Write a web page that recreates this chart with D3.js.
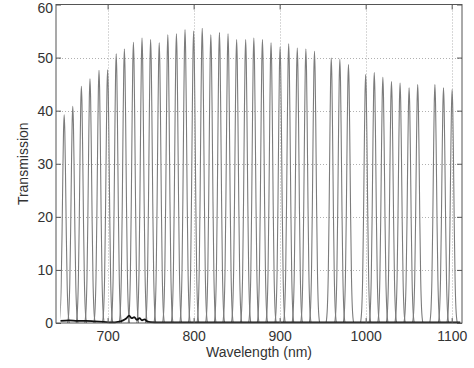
<!DOCTYPE html>
<html>
<head>
<meta charset="utf-8">
<script src="https://cdn.jsdelivr.net/npm/d3@7"></script>
<style>
  body { margin: 0; background: #fff; }
  svg text { font-family: "Liberation Sans", Arial, sans-serif; }
</style>
</head>
<body>
<div id="view"></div>
<script>
// peak centres (nm) and peak transmission
const peakCenters = [649.5, 659.5, 669.5, 679.5, 690, 700, 710, 719.5, 730, 740, 750, 760,
  770, 780, 790, 800, 810, 820, 830, 840, 850, 860.5, 870, 880, 890, 900.5, 910.5, 920.5,
  930.5, 940.5, 960, 970, 980, 1000, 1010, 1020, 1030, 1040, 1050.5, 1060.5, 1080.5, 1090.5, 1100.5];
const peakHeights = [39.2, 40.8, 44.6, 46.0, 47.6, 47.7, 50.7, 51.6, 52.9, 53.7, 53.4, 52.8,
  54.3, 54.5, 55.3, 55.0, 55.5, 54.3, 54.7, 54.5, 53.4, 53.4, 53.7, 53.4, 52.8, 52.0, 52.6, 51.8,
  51.6, 51.2, 49.9, 49.7, 48.7, 46.8, 47.2, 46.3, 45.5, 45.2, 44.3, 44.9, 44.9, 44.3, 44.0];

// passband shape: offset from centre (nm) -> fraction of peak
const profileOffsets = [-6, -4.5, -3.5, -2.5, -1.5, -0.75, 0, 0.75, 1.5, 2.5, 3.5, 4.5, 6];
const profileFractions = [0, 0.06, 0.18, 0.42, 0.73, 0.92, 1, 0.92, 0.73, 0.42, 0.18, 0.06, 0];

// black trace near zero
const baseWave = [645, 655, 665, 675, 685, 695, 705, 712, 718, 722, 725, 728, 731, 734, 737, 740,
  743, 746, 750, 760, 800, 900, 1000, 1110];
const baseVal = [0.4, 0.5, 0.4, 0.4, 0.3, 0.2, 0.1, 0.2, 0.5, 0.9, 1.4, 0.9, 1.1, 0.6, 0.9, 0.5,
  0.7, 0.3, 0.15, 0.1, 0.1, 0.1, 0.1, 0.1];

const xTicks = [700, 800, 900, 1000, 1100];
const yTicks = [0, 10, 20, 30, 40, 50, 60];
const dataStart = 645;

const W = 474, H = 368;
const m = { left: 56, right: 462, top: 4.5, bottom: 323 };

const svg = d3.select("#view").append("svg")
  .attr("width", W)
  .attr("height", H);

const x = d3.scaleLinear().domain([640, 1112]).range([m.left, m.right]);
const y = d3.scaleLinear().domain([0, 60]).range([m.bottom, m.top]);

svg.append("clipPath").attr("id", "clip")
  .append("rect")
  .attr("x", x(dataStart)).attr("y", m.top)
  .attr("width", m.right - x(dataStart)).attr("height", m.bottom - m.top + 1);

// grid
const grid = svg.append("g").attr("stroke", "#b0b0b0").attr("stroke-width", 1)
  .attr("stroke-dasharray", "1,2");
grid.selectAll(".gx").data(xTicks).enter().append("line")
  .attr("x1", d => Math.round(x(d)) + 0.5).attr("x2", d => Math.round(x(d)) + 0.5)
  .attr("y1", m.top).attr("y2", m.bottom);
grid.selectAll(".gy").data(yTicks.filter(d => d > 0 && d < 60)).enter().append("line")
  .attr("x1", m.left).attr("x2", m.right)
  .attr("y1", d => Math.round(y(d)) + 0.5).attr("y2", d => Math.round(y(d)) + 0.5);

const line = d3.line()
  .x(d => x(d[0]))
  .y(d => y(d[1]))
  .curve(d3.curveMonotoneX);

const peaks = peakCenters.map((c, i) =>
  profileOffsets.map((o, j) => [c + o, peakHeights[i] * profileFractions[j]]));

const plot = svg.append("g").attr("clip-path", "url(#clip)");
plot.selectAll(".peak").data(peaks).enter().append("path")
  .attr("class", "peak")
  .attr("d", line)
  .attr("fill", "none")
  .attr("stroke", "#7c7c7c")
  .attr("stroke-width", 1.1);

plot.append("path")
  .datum(baseWave.map((w, i) => [w, baseVal[i]]))
  .attr("d", line)
  .attr("fill", "none")
  .attr("stroke", "#111")
  .attr("stroke-width", 1.8);

// axes with inward ticks
svg.append("g").attr("transform", `translate(0,${m.bottom})`)
  .call(d3.axisBottom(x).tickValues(xTicks).tickFormat(d3.format("d"))
    .tickSize(-5).tickSizeOuter(0).tickPadding(8));
svg.append("g").attr("transform", `translate(${m.left},0)`)
  .call(d3.axisLeft(y).tickValues(yTicks).tickFormat(d3.format("d"))
    .tickSize(-5).tickSizeOuter(0).tickPadding(3));
svg.append("g").attr("transform", `translate(0,${m.top})`)
  .call(d3.axisTop(x).tickValues(xTicks).tickSize(-5).tickSizeOuter(0).tickFormat(""));
svg.append("g").attr("transform", `translate(${m.right},0)`)
  .call(d3.axisRight(y).tickValues(yTicks).tickSize(-5).tickSizeOuter(0).tickFormat(""));

svg.selectAll(".domain").remove();
svg.selectAll(".tick line").attr("stroke", "#555");
svg.selectAll(".tick text").attr("font-size", 14).attr("fill", "#333")
  .attr("font-family", "'Liberation Sans', Arial, sans-serif");
// keep the top label inside the window
svg.selectAll(".tick text").filter(d => d === 60).attr("dy", "0.55em");

svg.append("rect")
  .attr("x", m.left).attr("y", m.top)
  .attr("width", m.right - m.left).attr("height", m.bottom - m.top)
  .attr("fill", "none").attr("stroke", "#555").attr("stroke-width", 1);

svg.append("text")
  .attr("x", (m.left + m.right) / 2).attr("y", 357)
  .attr("text-anchor", "middle").attr("font-size", 14).attr("fill", "#333")
  .text("Wavelength (nm)");

svg.append("text")
  .attr("transform", `translate(23,${(m.top + m.bottom) / 2}) rotate(-90)`)
  .attr("dy", "0.35em")
  .attr("text-anchor", "middle").attr("font-size", 14).attr("fill", "#333")
  .text("Transmission");
</script>
</body>
</html>
